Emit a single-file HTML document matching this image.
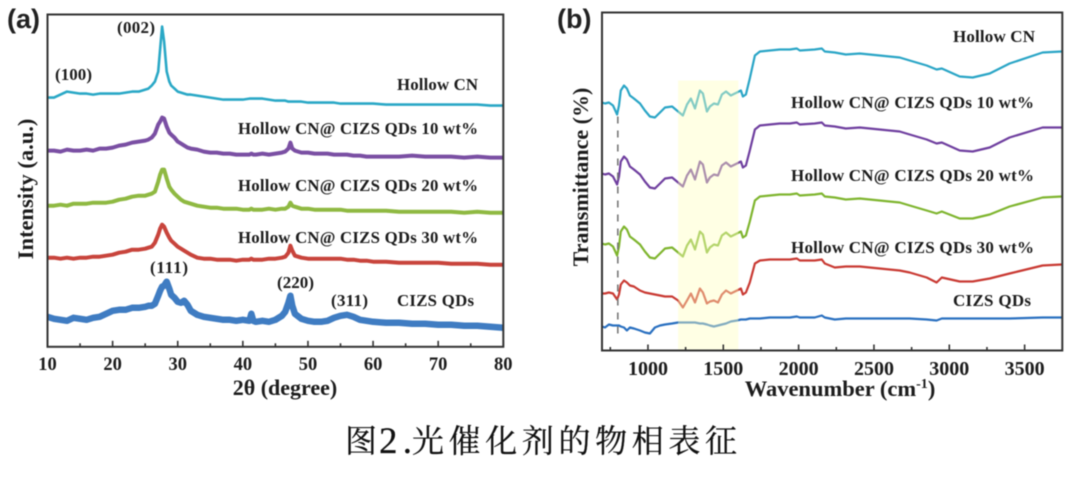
<!DOCTYPE html>
<html lang="zh">
<head>
<meta charset="utf-8">
<title>光催化剂的物相表征</title>
<style>
html,body{margin:0;padding:0;background:#fff;}
body{width:1080px;height:484px;overflow:hidden;}
svg{display:block;filter:blur(0.55px);}
.lbl{font-family:"Liberation Serif","Noto Serif CJK SC",serif;font-weight:bold;fill:#1c1c1c;}
.panel{font-family:"Liberation Sans",sans-serif;font-weight:bold;fill:#222;font-size:27px;}
.cap{font-family:"Liberation Serif","Noto Serif CJK SC",serif;fill:#111;stroke:#111;stroke-width:0.25;}
</style>
</head>
<body>
<svg id="figure" width="1080" height="484" viewBox="0 0 1080 484" xmlns="http://www.w3.org/2000/svg">
  <g id="chartA"></g>
  <g id="chartB"></g>

  <text class="panel" x="7" y="28">(a)</text>
  <text class="panel" x="557" y="28">(b)</text>

  <text class="lbl" font-size="22" text-anchor="middle" x="285" y="395">2θ (degree)</text>
  <text class="lbl" font-size="22.5" text-anchor="middle" transform="translate(33,189) rotate(-90)">Intensity (a.u.)</text>
  <text class="lbl" font-size="22.5" text-anchor="middle" x="840" y="396">Wavenumber (cm<tspan font-size="14" dy="-8">-1</tspan><tspan dy="8">)</tspan></text>
  <text class="lbl" font-size="22" text-anchor="middle" transform="translate(588,177) rotate(-90)">Transmittance (%)</text>

  <text class="lbl" font-size="17" x="117" y="33" textLength="38">(002)</text>
  <text class="lbl" font-size="17" x="55" y="80" textLength="37">(100)</text>
  <text class="lbl" font-size="17" x="150" y="273" textLength="38">(111)</text>
  <text class="lbl" font-size="17" x="277" y="288" textLength="37">(220)</text>
  <text class="lbl" font-size="17" x="331" y="306" textLength="37">(311)</text>

  <text class="lbl" font-size="16.8" x="397" y="90" textLength="81">Hollow CN</text>
  <text class="lbl" font-size="16.8" x="238" y="134" textLength="240">Hollow CN@ CIZS QDs 10 wt%</text>
  <text class="lbl" font-size="16.8" x="238" y="191" textLength="240">Hollow CN@ CIZS QDs 20 wt%</text>
  <text class="lbl" font-size="16.8" x="238" y="243" textLength="240">Hollow CN@ CIZS QDs 30 wt%</text>
  <text class="lbl" font-size="16.8" x="397" y="306" textLength="77">CIZS QDs</text>

  <text class="lbl" font-size="17" x="953" y="42" textLength="82">Hollow CN</text>
  <text class="lbl" font-size="17" x="791" y="108" textLength="243">Hollow CN@ CIZS QDs 10 wt%</text>
  <text class="lbl" font-size="17" x="791" y="181" textLength="243">Hollow CN@ CIZS QDs 20 wt%</text>
  <text class="lbl" font-size="17" x="791" y="253" textLength="243">Hollow CN@ CIZS QDs 30 wt%</text>
  <text class="lbl" font-size="17" x="953" y="306" textLength="78">CIZS QDs</text>

  <g>
    <text class="cap" font-size="32" x="345" y="452">图</text>
    <text class="cap" font-size="37" x="379" y="453" textLength="33">2.</text>
    <text class="cap" font-size="32" x="412" y="452" textLength="325">光催化剂的物相表征</text>
  </g>
</svg>

<script>
// ---------- Panel (a) XRD data ----------
const xrdTwoTheta = [10,11,12,13,14,15,16,17,18,19,20,21,22,23,24,25,25.5,26,26.5,27,27.3,27.6,27.9,28.3,28.7,29,29.5,30,30.5,31,31.5,32,33,34,35,36,37,38,39,40,41,41.3,41.6,42,43,44,45,46,46.5,47,47.3,47.6,48,49,50,51,52,53,54,55,56,57,58,59,60,62,64,66,68,70,72,74,76,78,80];
const xrdHollowCN = [249,249,252,255,254,253,253,252,253,253,253,253,254,255,255,257,258,261,265,275,297,320,305,275,265,261,258,255,254,253,252,252,251,250,249,248,247,247,247,247,248,248,248,248,248,247,246,246,246,245,245,245,245,245,244,244,244,244,244,243,243,243,243,243,243,242,242,242,242,242,242,242,242,241,241];
const xrd10wt = [196,196,195,197,196,196,197,196,198,198,199,201,202,204,205,206,207,209,213,222,225,229,228,220,214,212,209,205,203,201,199,198,197,195,194,194,193,193,192,192,192,193,192,192,193,192,193,194,195,198,204,198,196,194,194,193,193,193,192,192,192,191,191,190,190,190,190,191,190,190,190,189,190,189,189];
const xrd20wt = [141,141,142,141,143,143,143,144,144,144,145,147,148,150,151,151,152,153,155,165,172,177,177,168,160,157,153,150,147,145,144,143,141,140,139,139,138,138,138,137,137,138,137,137,137,138,137,138,138,140,144,141,140,138,138,137,137,137,137,137,136,136,136,136,136,136,135,135,135,135,135,134,135,134,134];
const xrd30wt = [89,89,88,89,88,89,89,90,90,91,92,94,95,97,97,98,99,100,104,112,118,122,120,114,109,106,103,100,98,96,94,92,89,88,88,87,87,87,86,87,87,88,87,87,87,88,88,89,90,94,101,96,91,89,88,88,88,88,88,88,87,87,86,86,85,85,84,84,84,84,83,83,83,82,82];
const xrdCIZS = [30,28,27,26,29,28,27,29,30,33,36,37,37,39,39,40,41,41,43,51,56,60,61,65,58,52,49,45,44,46,42,36,32,30,29,28,27,27,26,27,26,33,26,25,26,25,27,31,35,44,51,41,33,28,26,25,25,26,29,31,32,30,27,26,25,24,24,23,23,22,22,21,21,20,19];
const xrdMajorTicks = [10,20,30,40,50,60,70,80];
const xrdMinorTicks = [15,25,35,45,55,65,75];

// ---------- Panel (b) FTIR data ----------
const ftirWavenumber = [695,715,741,768,795,808,820,841,860,880,907,947,980,1013,1046,1080,1113,1160,1200,1232,1259,1285,1312,1345,1365,1391,1411,1438,1465,1491,1518,1550,1590,1617,1630,1650,1676,1710,1743,1809,1875,1942,1988,2008,2107,2154,2174,2240,2313,2406,2538,2671,2737,2850,2916,2950,3069,3155,3268,3400,3619,3745];
const ftirHollowCN = [248,247,248,245,236,245,260,265,262,255,252,247,240,234,233,238,243,244,239,235,246,252,242,260,257,239,244,247,246,256,259,255,258,260,254,256,272,295,299,300,301,301,302,300,301,302,299,298,296,297,295,293,290,285,281,282,274,273,277,287,298,299];
const ftir10wt = [177,176,177,174,166,174,189,194,191,184,181,176,169,163,162,167,172,173,168,164,175,181,171,189,186,168,173,176,175,185,188,184,187,189,183,185,200,221,225,226,227,227,228,226,227,228,225,224,222,223,221,219,216,211,207,208,200,199,203,213,223,223];
const ftir20wt = [107,106,107,104,95,104,119,124,121,114,111,106,99,93,92,97,102,103,98,94,105,111,101,119,116,98,103,106,105,115,118,114,117,119,113,115,129,150,154,155,156,156,157,155,156,157,154,153,151,152,150,148,145,140,137,139,132,132,136,144,153,154];
const ftir30wt = [57,57,58,57,51,56,66,70,68,65,64,60,58,57,56,55,54,54,50,43,50,57,48,62,58,47,49,50,48,56,60,57,60,62,56,58,68,87,90,91,91,91,92,90,90,91,87,83,84,84,82,80,78,73,68,73,69,69,72,77,85,86];
const ftirCIZS = [24,23,26,25,25,25,24,23,20,23,22,20,18,17,23,25,26,27,28,28,28,28,28,27,27,26,25,24,25,26,27,29,30,31,31,31,32,32,32,33,33,33,34,33,33,35,33,31,32,32,32,32,32,31,30,32,32,32,32,32,33,33];
const ftirMajorTicks = [1000,1500,2000,2500,3000,3500];
const ftirMinorTicks = [750,1250,1750,2250,2750,3250];
const highlightBand = [1200,1600];
const highlightTop = 270;
const markerWavenumber = 800;

const NS = 'http://www.w3.org/2000/svg';
function make(parent, tag, attrs) {
  const el = document.createElementNS(NS, tag);
  for (const k in attrs) el.setAttribute(k, attrs[k]);
  parent.appendChild(el);
  return el;
}
function linear(d0, d1, r0, r1) {
  return v => r0 + (v - d0) / (d1 - d0) * (r1 - r0);
}
function pathFrom(xs, ys, fx, fy) {
  return xs.map((v, i) => fx(v).toFixed(1) + ',' + fy(ys[i]).toFixed(1)).join(' ');
}
function drawFrame(g, box, fx, majors, minors, labelY, fontSize) {
  const frame = make(g, 'rect', {x: box.l, y: box.t, width: box.r - box.l, height: box.b - box.t, fill: 'none', stroke: '#333', 'stroke-width': 2});
  
  
  majors.forEach(v => {
    const t = make(g, 'line', {x1: fx(v), x2: fx(v), y1: box.b, y2: box.b - 6, stroke: '#333', 'stroke-width': 1.6});
    
    
    const lab = make(g, 'text', {x: fx(v), y: labelY, 'text-anchor': 'middle', 'font-size': fontSize, class: 'lbl'});
    lab.textContent = v;
    
    
  });
  minors.forEach(v => {
    const t = make(g, 'line', {x1: fx(v), x2: fx(v), y1: box.b, y2: box.b - 3.5, stroke: '#333', 'stroke-width': 1.6});
    
    
  });
}

// ---------- Draw panel (a) ----------
const boxA = {l: 47.5, r: 503.3, t: 14.5, b: 346.8};
const xA = linear(10, 80, boxA.l, boxA.r);
const yA = linear(0, 332, boxA.b, boxA.t);
const gA = document.getElementById('chartA');
const xrdSeries = [
  ['xrd-line-cizs', xrdCIZS, '#3f7cc2', 6.5],
  ['xrd-line-30wt', xrd30wt, '#c8443c', 4],
  ['xrd-line-20wt', xrd20wt, '#8fb942', 4],
  ['xrd-line-10wt', xrd10wt, '#7a4fa3', 4],
  ['xrd-line-hollow-cn', xrdHollowCN, '#2aa8c6', 2.6]
];
xrdSeries.forEach(s => {
  const line = make(gA, 'polyline', {points: pathFrom(xrdTwoTheta, s[1], xA, yA), fill: 'none', stroke: s[2], 'stroke-width': s[3], 'stroke-linejoin': 'round'});
  
  
});
drawFrame(gA, boxA, xA, xrdMajorTicks, xrdMinorTicks, 370, 18.5);

// ---------- Draw panel (b) ----------
const boxB = {l: 602, r: 1062.3, t: 12.5, b: 350.5};
const xB = linear(695, 3750, boxB.l, boxB.r);
const yB = linear(0, 338, boxB.b, boxB.t);
const gB = document.getElementById('chartB');
const ftirSeries = [
  ['ftir-line-hollow-cn', ftirHollowCN, '#2aa5c6'],
  ['ftir-line-10wt', ftir10wt, '#6f3f9f'],
  ['ftir-line-20wt', ftir20wt, '#7fb52f'],
  ['ftir-line-30wt', ftir30wt, '#c93a33'],
  ['ftir-line-cizs', ftirCIZS, '#2a70c0']
];
ftirSeries.forEach(s => {
  const line = make(gB, 'polyline', {points: pathFrom(ftirWavenumber, s[1], xB, yB), fill: 'none', stroke: s[2], 'stroke-width': 2.2, 'stroke-linejoin': 'round'});
  
  
});
const band = make(gB, 'rect', {x: xB(highlightBand[0]), y: yB(highlightTop), width: xB(highlightBand[1]) - xB(highlightBand[0]), height: yB(0) - yB(highlightTop), fill: 'rgb(255,255,190)', 'fill-opacity': 0.42});


const marker = make(gB, 'line', {x1: xB(markerWavenumber), x2: xB(markerWavenumber), y1: yB(234), y2: yB(10), stroke: '#777', 'stroke-width': 1.6, 'stroke-dasharray': '7 7'});


drawFrame(gB, boxB, xB, ftirMajorTicks, ftirMinorTicks, 375, 20);
</script>
</body>
</html>
